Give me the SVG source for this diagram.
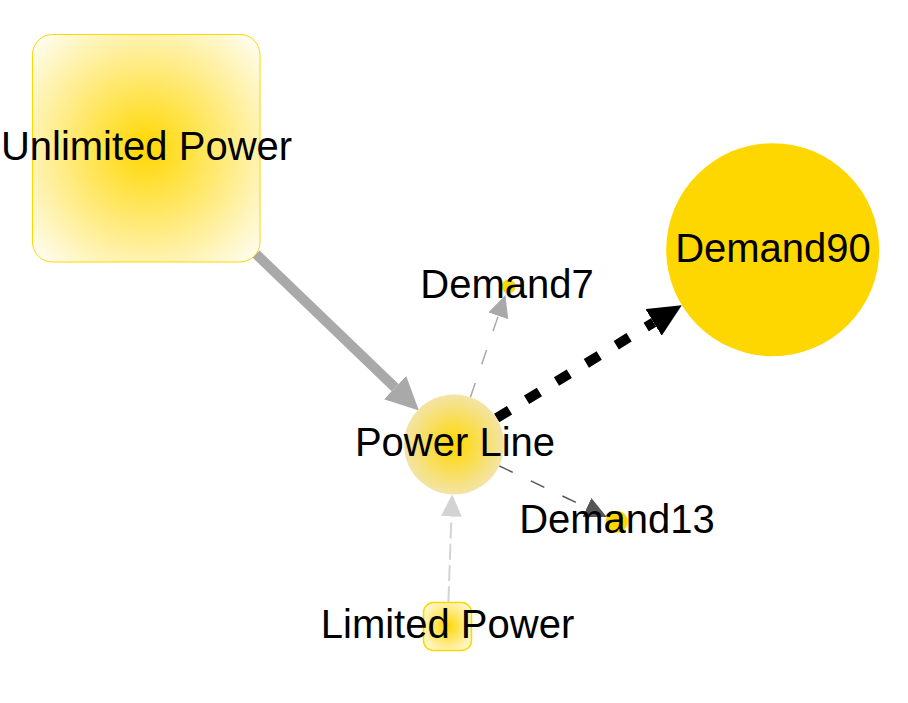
<svg xmlns="http://www.w3.org/2000/svg" width="908" height="703" viewBox="0 0 908 703">
<style>
.lbl{font-family:"Liberation Sans",Arial,sans-serif;font-size:40px;fill:#000;text-anchor:middle}
.e{fill:none;stroke-linecap:butt}
.dot{fill:#FFD700}
</style>
<defs>
<radialGradient id="gSq" cx="0.5" cy="0.5" r="0.72">
<stop offset="0" stop-color="#FFD700"/>
<stop offset="1" stop-color="#FFFFFF"/>
</radialGradient>
<radialGradient id="gPL" cx="0.5" cy="0.5" r="0.5">
<stop offset="0" stop-color="#FFD700"/>
<stop offset="1" stop-color="#F3E4A6"/>
</radialGradient>
<marker id="aThickGray" markerUnits="userSpaceOnUse" viewBox="0 -16 33 32" markerWidth="33" markerHeight="32" refX="0" refY="0" orient="auto">
<path d="M0,-16 L33,0 L0,16 Z" fill="#A9A9A9"/>
</marker>
<marker id="aBlack" markerUnits="userSpaceOnUse" viewBox="0 -16 33 32" markerWidth="33" markerHeight="32" refX="0" refY="0" orient="auto">
<path d="M0,-15.5 L33,0 L0,15.5 Z" fill="#000"/>
</marker>
<marker id="aGray" markerUnits="userSpaceOnUse" viewBox="0 -11 22 22" markerWidth="22" markerHeight="22" refX="0" refY="0" orient="auto">
<path d="M0,-10.5 L22,0 L0,10.5 Z" fill="#A9A9A9"/>
</marker>
<marker id="aDim" markerUnits="userSpaceOnUse" viewBox="0 -11 22 22" markerWidth="22" markerHeight="22" refX="0" refY="0" orient="auto">
<path d="M0,-10.5 L22,0 L0,10.5 Z" fill="#555555"/>
</marker>
<marker id="aLight" markerUnits="userSpaceOnUse" viewBox="0 -11 22 22" markerWidth="22" markerHeight="22" refX="0" refY="0" orient="auto">
<path d="M0,-10.5 L22,0 L0,10.5 Z" fill="#D3D3D3"/>
</marker>
</defs>

<g id="edges">
<path id="e-unlimited-powerline" class="e" d="M256,254 L395.1,387.6" stroke="#A9A9A9" stroke-width="10" marker-end="url(#aThickGray)"/>
<path id="e-powerline-demand90" class="e" d="M496.7,418 L653.6,322.4" stroke="#000" stroke-width="10" stroke-dasharray="15,20" marker-end="url(#aBlack)"/>
<path id="e-powerline-demand7" class="e" d="M470.4,397.3 L498.3,315.8" stroke="#A9A9A9" stroke-width="1.5" stroke-dasharray="15,20" marker-end="url(#aGray)"/>
<path id="e-powerline-demand13" class="e" d="M499.2,465.9 L586.9,507.6" stroke="#555555" stroke-width="1.5" stroke-dasharray="15,20" marker-end="url(#aDim)"/>
<path id="e-limited-powerline" class="e" d="M448.4,602.3 L451.4,516.5" stroke="#D3D3D3" stroke-width="2" stroke-dasharray="16,5.3" marker-end="url(#aLight)"/>
</g>

<g id="node-unlimited-power">
<rect x="32.5" y="34.5" width="227.5" height="227.5" rx="20" fill="url(#gSq)" stroke="#FFD700" stroke-width="1"/>
<text class="lbl" x="146.5" y="160">Unlimited Power</text>
</g>

<g id="node-demand90">
<circle cx="772.7" cy="249.7" r="106.5" class="dot"/>
<text class="lbl" x="773" y="262">Demand90</text>
</g>

<g id="node-demand7">
<circle cx="508.6" cy="286.5" r="7" class="dot"/>
<text class="lbl" x="507" y="297.5">Demand7</text>
</g>

<g id="node-demand13">
<circle cx="616.7" cy="521.7" r="11" class="dot"/>
<text class="lbl" x="617" y="533">Demand13</text>
</g>

<g id="node-power-line">
<circle cx="454" cy="444.5" r="50" fill="url(#gPL)"/>
<text class="lbl" x="455" y="455.5">Power Line</text>
</g>

<g id="node-limited-power">
<rect x="423.5" y="602.5" width="48" height="48" rx="10" fill="url(#gSq)" stroke="#FFD700" stroke-width="1.5"/>
<text class="lbl" x="447.5" y="638">Limited Power</text>
</g>
</svg>
